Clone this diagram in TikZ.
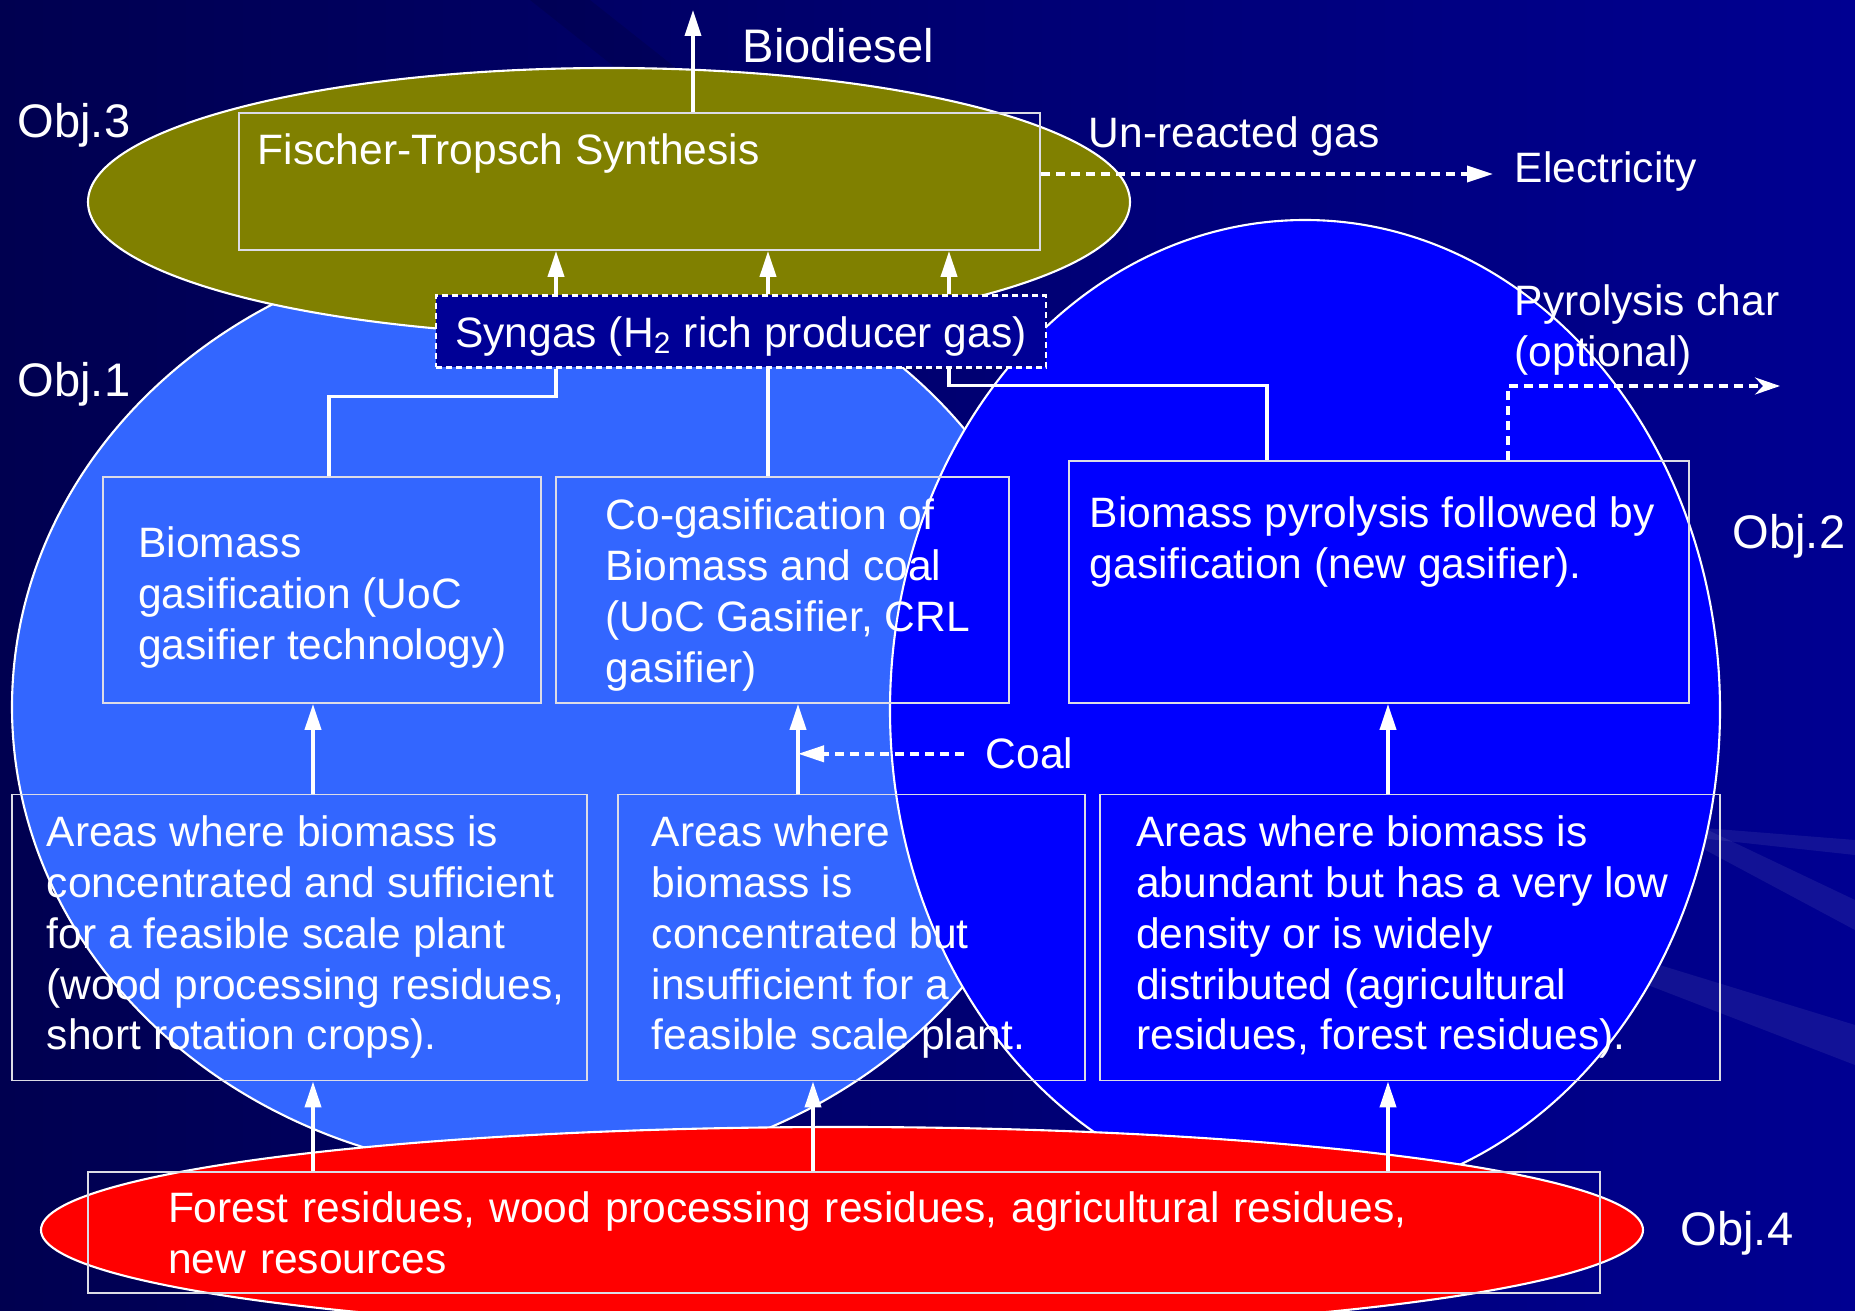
\documentclass[tikz,border=0pt]{standalone}
\usepackage{fontspec}
\setmainfont{Liberation Sans}
\usetikzlibrary{positioning,arrows.meta}
\definecolor{cbgdark}{RGB}{0,0,80}
\definecolor{cbglight}{RGB}{0,0,145}
\definecolor{cobja}{RGB}{51,102,255}
\definecolor{cobjb}{RGB}{0,0,255}
\definecolor{cobjc}{RGB}{128,128,0}
\definecolor{cobjd}{RGB}{255,0,0}
\definecolor{csyn}{RGB}{0,0,150}
\definecolor{cedge}{RGB}{220,220,230}

\begin{document}
\begin{tikzpicture}[
  txt/.style={text=white, inner sep=0pt, align=left, font=\fontsize{12.1}{14.5}\selectfont},
  big/.style={txt, font=\fontsize{13.4}{16}\selectfont},
  inbox/.style={txt, anchor=north west},
  box/.style={txt, draw=cedge, line width=0.5pt},
  blob/.style={draw=white, line width=0.6pt},
  link/.style={draw=white, line width=1.05pt},
  arr/.style={link, -{Triangle[length=0.26cm, width=0.16cm]}},
  dline/.style={link, dash pattern=on 0.09cm off 0.06cm}]
\useasboundingbox (0,0) rectangle (18.55,-13.11);
\shade[left color=cbgdark, right color=cbglight] (0,0) rectangle (18.55,-13.11);
\foreach \ya/\yb/\yc in {-8.70/-10.25/-10.65, -6.60/-9.00/-9.30, -8.00/-8.40/-8.55}
  \fill[white, opacity=0.07] (13.5,\ya) -- (18.55,\yb) -- (18.55,\yc) -- cycle;
\fill[black, opacity=0.12] (5.30,0) -- (5.90,0) -- (7.10,-0.95) -- (6.50,-0.95) -- cycle;
% the four objectives
\filldraw[blob, fill=cobja] (5.40,-7.07) ellipse [x radius=5.28, y radius=4.67];
\filldraw[blob, fill=cobjb] (13.05,-7.10) ellipse [x radius=4.15, y radius=4.90];
\filldraw[blob, fill=cobjc] (6.09,-2.02) ellipse [x radius=5.21, y radius=1.34];
\filldraw[blob, fill=cobjd] (8.42,-12.30) ellipse [x radius=8.01, y radius=1.03];
\foreach \n/\x in {k1/5.56, k2/7.68, k3/9.49, a1/3.13, a2/7.98, a3/13.88, b2/8.13}
  \coordinate (\n) at (\x,0);
\coordinate (bio) at (6.93,-0.10);
\coordinate (elec) at (14.93,-1.74);
\coordinate (char) at (17.80,-3.86);
\node[box, minimum width=8.01cm, minimum height=1.37cm] (ft) at (6.395,-1.815) {};
\node[box, fill=csyn, draw=white, line width=0.6pt, dash pattern=on 0.06cm off 0.04cm, text height=0.41cm,
      minimum width=6.10cm, minimum height=0.72cm] (syn) at (7.41,-3.315) {Syngas (H\textsubscript{2} rich producer gas)};
\node[box, minimum width=4.38cm, minimum height=2.26cm] (gas) at (3.22,-5.90) {};
\node[box, minimum width=4.53cm, minimum height=2.26cm] (cogas) at (7.825,-5.90) {};
\node[box, minimum width=6.20cm, minimum height=2.42cm] (pyro) at (13.79,-5.82) {};
\node[box, minimum width=5.75cm, minimum height=2.86cm] (areaA) at (2.995,-9.375) {};
\node[box, minimum width=4.67cm, minimum height=2.86cm] (areaB) at (8.515,-9.375) {};
\node[box, minimum width=6.20cm, minimum height=2.86cm] (areaC) at (14.10,-9.375) {};
\node[box, text width=13.52cm, minimum width=15.12cm, minimum height=1.21cm] (res) at (8.44,-12.325) {Forest residues, wood processing residues, agricultural residues,\\new resources};
\node[inbox] (ftT) at ([shift={(0.19,-0.21)}]ft.north west) {Fischer-Tropsch Synthesis};
\node[inbox] (gasT) at ([shift={(0.355,-0.50)}]gas.north west) {Biomass\\gasification (UoC\\gasifier technology)};
\node[inbox] (cogasT) at ([shift={(0.50,-0.22)}]cogas.north west) {Co-gasification of\\Biomass and coal\\(UoC Gasifier, CRL\\gasifier)};
\node[inbox] (pyroT) at ([shift={(0.21,-0.36)}]pyro.north west) {Biomass pyrolysis followed by\\gasification (new gasifier).};
\node[inbox] (areaAT) at ([shift={(0.35,-0.21)}]areaA.north west) {Areas where biomass is\\concentrated and sufficient\\for a feasible scale plant\\(wood processing residues,\\short rotation crops).};
\node[inbox] (areaBT) at ([shift={(0.34,-0.21)}]areaB.north west) {Areas where\\biomass is\\concentrated but\\insufficient for a\\feasible scale plant.};
\node[inbox] (areaCT) at ([shift={(0.365,-0.21)}]areaC.north west) {Areas where biomass is\\abundant but has a very low\\density or is widely\\distributed (agricultural\\residues, forest residues).};
\node[big, anchor=base west] (bioL) at (7.42,-0.63) {Biodiesel};
\node[txt, anchor=base west] (gasL) at (10.88,-1.48) {Un-reacted gas};
\node[txt, anchor=base west] (elecL) at (15.14,-1.83) {Electricity};
\node[txt, anchor=north west] (charL) at (15.14,-2.84) {Pyrolysis char\\(optional)};
\node[txt, anchor=base west] (coalL) at (9.85,-7.69) {Coal};
\node[big, anchor=base west] (o3) at (0.17,-1.38) {Obj.3};
\node[big, anchor=base west] (o1) at (0.17,-3.97) {Obj.1};
\node[big, anchor=base west] (o2) at (17.32,-5.49) {Obj.2};
\node[big, anchor=base west] (o4) at (16.80,-12.46) {Obj.4};
\draw[arr] (bio |- ft.north) -- (bio);
\draw[arr, dline] (ft.east |- elec) -- (elec);
\foreach \k in {k1,k2,k3} \draw[arr] (syn.north -| \k) -- (ft.south -| \k);
\draw[link] (syn.south -| k1) -- ++(0,-0.28) -| ([xshift=0.07cm]gas.north);
\draw[link] (syn.south -| k2) -- (cogas.north -| k2);
\draw[link] (syn.south -| k3) -- ++(0,-0.17) -| ([xshift=-1.12cm]pyro.north);
\draw[dline, -{Stealth[length=0.25cm, width=0.17cm]}] ([xshift=1.29cm]pyro.north) |- (char);
\draw[arr] (areaA.north -| a1) -- (gas.south -| a1);
\draw[arr] (areaB.north -| a2) -- (cogas.south -| a2);
\draw[arr] (areaC.north -| a3) -- (pyro.south -| a3);
\draw[arr, dline] ([xshift=-0.21cm]coalL.west) -- (coalL.west -| a2);
\draw[arr] (res.north -| a1) -- (areaA.south -| a1);
\draw[arr] (res.north -| b2) -- (areaB.south -| b2);
\draw[arr] (res.north -| a3) -- (areaC.south -| a3);
\end{tikzpicture}
\end{document}
